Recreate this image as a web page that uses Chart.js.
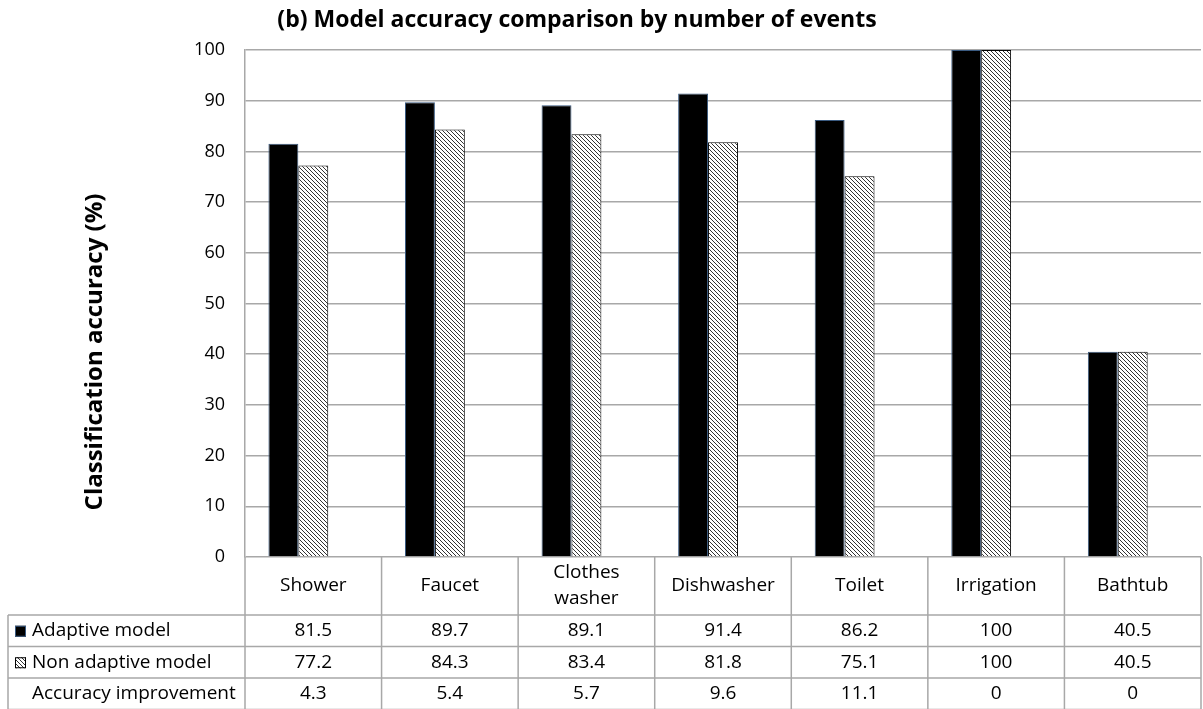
<!DOCTYPE html>
<html>
<head>
<meta charset="utf-8">
<script src="https://cdn.jsdelivr.net/npm/chart.js@4.4.1/dist/chart.umd.min.js"></script>
<style>
html, body { margin: 0; padding: 0; background: #fff; }
canvas { display: block; }
</style>
</head>
<body>
<canvas id="myChart" width="1203" height="709"></canvas>
<script>
var categories = ['Shower', 'Faucet', ['Clothes', 'washer'], 'Dishwasher', 'Toilet', 'Irrigation', 'Bathtub'];
var adaptive = [81.5, 89.7, 89.1, 91.4, 86.2, 100, 40.5];
var nonAdaptive = [77.2, 84.3, 83.4, 81.8, 75.1, 100, 40.5];
var improvement = [4.3, 5.4, 5.7, 9.6, 11.1, 0, 0];
var rowLabels = ['Adaptive model', 'Non adaptive model', 'Accuracy improvement'];
var chartTitle = '(b) Model accuracy comparison by number of events';
var yTitle = 'Classification accuracy (%)';

var FONT = '"Open Sans", Lato, sans-serif';
var LINE = '#a8a8a8';

// diagonal hatch like the excel pattern fill
function makeHatch() {
	var c = document.createElement('canvas');
	c.width = 4; c.height = 4;
	var g = c.getContext('2d');
	g.fillStyle = '#fff';
	g.fillRect(0, 0, 4, 4);
	g.fillStyle = '#333';
	for (var i = 0; i < 4; i++) {
		g.fillRect(i, i, 1, 1);
	}
	return g.createPattern(c, 'repeat');
}
var hatch = makeHatch();

var tablePlugin = {
	id: 'dataTable',
	afterDraw: function(chart) {
		var ctx = chart.ctx;
		var xs = chart.scales.x;
		var area = chart.chartArea;
		var half = (xs.getPixelForValue(1) - xs.getPixelForValue(0)) / 2;
		var headTop = area.bottom, headBot = area.bottom + 58, rowH = 31.5;
		var tableLeft = 8, right = xs.getPixelForValue(categories.length - 1) + half;
		var series = [adaptive, nonAdaptive, improvement];

		ctx.save();
		ctx.strokeStyle = LINE;
		ctx.lineWidth = 1.5;
		ctx.beginPath();
		for (var r = 0; r <= 3; r++) {
			var y = headBot + r * rowH;
			ctx.moveTo(tableLeft, y);
			ctx.lineTo(right, y);
		}
		ctx.moveTo(tableLeft, headBot);
		ctx.lineTo(tableLeft, headBot + 3 * rowH);
		for (var i = 0; i <= categories.length; i++) {
			var x = xs.getPixelForValue(i) - half;
			ctx.moveTo(x, headTop);
			ctx.lineTo(x, headBot + 3 * rowH);
		}
		ctx.stroke();

		ctx.fillStyle = '#000';
		ctx.font = '19px ' + FONT;
		ctx.textAlign = 'center';
		ctx.textBaseline = 'middle';
		categories.forEach(function(lab, i) {
			var cx = xs.getPixelForValue(i);
			var lines = Array.isArray(lab) ? lab : [lab];
			var midY = (headTop + headBot) / 2;
			lines.forEach(function(t, k) {
				ctx.fillText(t, cx, midY + (k - (lines.length - 1) / 2) * 26);
			});
			series.forEach(function(s, r) {
				ctx.fillText(String(s[i]), cx, headBot + r * rowH + rowH / 2);
			});
		});

		ctx.textAlign = 'left';
		rowLabels.forEach(function(t, r) {
			var cy = headBot + r * rowH + rowH / 2;
			ctx.fillStyle = '#000';
			ctx.fillText(t, 32, cy);
			if (r < 2) {
				ctx.fillStyle = r === 0 ? '#000' : hatch;
				ctx.fillRect(15, cy - 5, 11, 11);
				ctx.strokeStyle = r === 0 ? '#3a5a80' : '#000';
				ctx.lineWidth = 1;
				ctx.strokeRect(15.5, cy - 4.5, 10, 10);
			}
		});

		ctx.fillStyle = '#000';
		ctx.textAlign = 'center';
		ctx.font = 'bold 23px ' + FONT;
		ctx.fillText(chartTitle, 577, 20);

		ctx.translate(95, 352);
		ctx.rotate(-Math.PI / 2);
		ctx.font = 'bold 24px ' + FONT;
		ctx.fillText(yTitle, 0, 0);
		ctx.restore();
	}
};

var ctx = document.getElementById('myChart').getContext('2d');
var chart = new Chart(ctx, {
	type: 'bar',
	data: {
		labels: categories,
		datasets: [
			{ label: rowLabels[0], data: adaptive, backgroundColor: '#000', borderColor: '#3a5a80', borderWidth: 1 },
			{ label: rowLabels[1], data: nonAdaptive, backgroundColor: hatch, borderColor: '#000', borderWidth: 1 },
			{ label: rowLabels[2], data: improvement, backgroundColor: 'rgba(0,0,0,0)', borderWidth: 0 }
		]
	},
	options: {
		responsive: false,
		animation: false,
		devicePixelRatio: 1,
		layout: { padding: { top: 50, right: 2, left: 0, bottom: 0 } },
		datasets: { bar: { categoryPercentage: 0.657, barPercentage: 1 } },
		plugins: { legend: { display: false }, tooltip: { enabled: false }, title: { display: false } },
		scales: {
			x: {
				grid: { display: false },
				border: { display: false },
				ticks: { display: false },
				afterFit: function(s) { s.height = 152; }
			},
			y: {
				min: 0,
				max: 100,
				ticks: { stepSize: 10, padding: 20, color: '#000', font: { family: FONT, size: 18 } },
				grid: { color: LINE, lineWidth: 1.5, drawTicks: false },
				border: { color: LINE, width: 1.5 },
				afterFit: function(s) { s.width = 245; }
			}
		}
	},
	plugins: [tablePlugin]
});
</script>
</body>
</html>
